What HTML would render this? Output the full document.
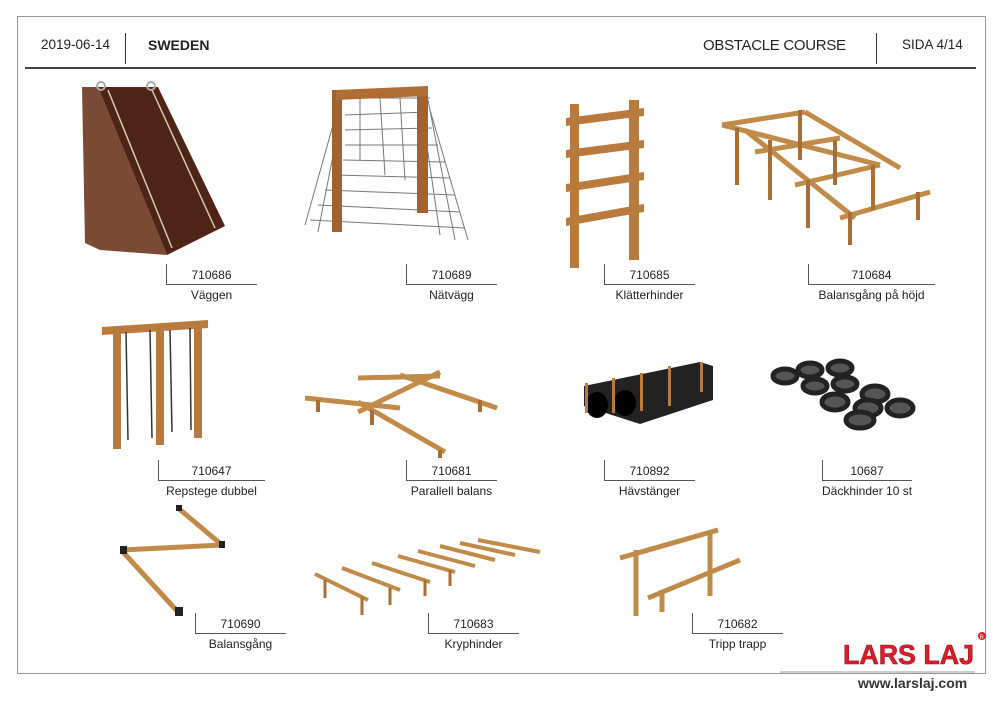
<!DOCTYPE html>
<html><head><meta charset="utf-8"><style>
body{margin:0;background:#fff;width:1000px;height:707px;position:relative;overflow:hidden;font-family:"Liberation Sans",sans-serif;}
.t{position:absolute;font-size:12px;color:#222;white-space:nowrap;}
.v{position:absolute;width:1px;background:#555;}
.h{position:absolute;height:1px;background:#555;}
</style></head><body>
<div style="position:absolute;left:17px;top:16px;width:967px;height:656px;border:1px solid #999;"></div>
<div class="h" style="left:25px;top:67px;width:951px;height:1.5px;background:#444"></div>
<div class="v" style="left:125px;top:33px;height:31px;background:#333"></div>
<div class="v" style="left:876px;top:33px;height:31px;background:#333"></div>
<div class="t" style="left:41px;top:37px;font-size:13.5px;">2019-06-14</div>
<div class="t" style="left:148px;top:37px;font-size:14px;font-weight:bold;">SWEDEN</div>
<div class="t" style="left:703px;top:37px;font-size:15px;letter-spacing:-0.3px;">OBSTACLE COURSE</div>
<div class="t" style="left:902px;top:37px;font-size:13.5px;">SIDA 4/14</div>

<svg width="1000" height="707" style="position:absolute;left:0;top:0">
<!-- wall -->
<polygon points="82,87 98,87 167,255 100,250 85,243" fill="#7a4a35"/>
<polygon points="98,87 158,87 225,226 167,255" fill="#4e2416"/>
<line x1="108" y1="90" x2="172" y2="248" stroke="#d9c9b0" stroke-width="1.5"/>
<line x1="152" y1="90" x2="215" y2="228" stroke="#d9c9b0" stroke-width="1.5"/>
<circle cx="101" cy="86" r="4" fill="none" stroke="#aaa" stroke-width="2"/>
<circle cx="151" cy="86" r="4" fill="none" stroke="#aaa" stroke-width="2"/>
<!-- net -->
<g stroke="#777" stroke-width="1" fill="none">
<path d="M340,100 L305,225 M340,120 L318,232 M343,98 L430,98 M345,115 L428,112 M345,130 L432,128 M345,145 L438,145 M343,160 L445,162 M335,175 L450,178 M325,190 L455,195 M318,205 L460,212 M310,220 L465,228"/>
<path d="M360,98 L360,160 M380,98 L385,175 M400,98 L405,180 M420,98 L440,235 M430,110 L468,240 M428,100 L455,240"/>
</g>
<rect x="332" y="90" width="10" height="142" fill="#a0622e"/>
<rect x="417" y="88" width="11" height="125" fill="#a0622e"/>
<polygon points="336,90 428,86 428,96 336,100" fill="#b06d33"/>
<!-- ladder -->
<g fill="#b97a3e">
<rect x="570" y="104" width="9" height="164"/>
<rect x="629" y="100" width="10" height="160"/>
<polygon points="566,118 644,108 644,116 566,126"/>
<polygon points="566,150 644,140 644,148 566,158"/>
<polygon points="566,184 644,172 644,180 566,192"/>
<polygon points="566,218 644,204 644,212 566,226"/>
</g>
<!-- balance high -->
<g stroke="#c08a48" stroke-width="5">
<line x1="722" y1="125" x2="880" y2="165"/><line x1="722" y1="125" x2="805" y2="112"/>
<line x1="805" y1="112" x2="900" y2="168"/><line x1="755" y1="152" x2="840" y2="138"/>
<line x1="795" y1="185" x2="880" y2="165"/><line x1="840" y1="218" x2="930" y2="192"/>
<line x1="745" y1="130" x2="855" y2="218"/>
</g>
<g stroke="#a86e35" stroke-width="4">
<line x1="737" y1="128" x2="737" y2="185"/><line x1="770" y1="140" x2="770" y2="200"/><line x1="800" y1="110" x2="800" y2="160"/>
<line x1="835" y1="140" x2="835" y2="185"/><line x1="808" y1="180" x2="808" y2="228"/><line x1="850" y1="212" x2="850" y2="245"/>
<line x1="873" y1="165" x2="873" y2="210"/><line x1="918" y1="192" x2="918" y2="220"/>
</g>
<!-- repstege -->
<g fill="#b97a3e">
<rect x="113" y="327" width="8" height="122"/><rect x="156" y="325" width="8" height="120"/><rect x="194" y="323" width="8" height="115"/>
<polygon points="102,327 208,320 208,328 102,335"/>
</g>
<g stroke="#333" stroke-width="1.5">
<line x1="126" y1="332" x2="128" y2="440"/><line x1="150" y1="330" x2="152" y2="438"/>
<line x1="170" y1="330" x2="172" y2="432"/><line x1="190" y1="328" x2="191" y2="430"/>
</g>
<!-- parallel -->
<g stroke="#c08a48" stroke-width="5">
<line x1="305" y1="398" x2="400" y2="408"/><line x1="358" y1="378" x2="440" y2="376"/>
<line x1="358" y1="412" x2="440" y2="372"/><line x1="400" y1="375" x2="497" y2="408"/>
<line x1="358" y1="402" x2="445" y2="452"/>
</g>
<g stroke="#a86e35" stroke-width="4"><line x1="318" y1="400" x2="318" y2="412"/><line x1="372" y1="410" x2="372" y2="425"/><line x1="440" y1="450" x2="440" y2="458"/><line x1="480" y1="400" x2="480" y2="412"/></g>
<!-- tunnels -->
<polygon points="584,386 700,362 713,366 713,400 640,424 584,406" fill="#222"/>
<ellipse cx="597" cy="405" rx="11" ry="13" fill="#000"/><ellipse cx="625" cy="403" rx="11" ry="13" fill="#000"/>
<g fill="#b97a3e"><rect x="585" y="383" width="3" height="30"/><rect x="612" y="378" width="3" height="35"/><rect x="640" y="373" width="3" height="38"/><rect x="668" y="366" width="3" height="40"/><rect x="700" y="362" width="3" height="30"/></g>
<!-- tires -->
<g fill="#555" stroke="#222" stroke-width="5">
<ellipse cx="810" cy="370" rx="12" ry="7"/><ellipse cx="840" cy="368" rx="12" ry="7"/><ellipse cx="785" cy="376" rx="12" ry="7"/>
<ellipse cx="815" cy="386" rx="12" ry="7"/><ellipse cx="845" cy="384" rx="12" ry="7"/><ellipse cx="875" cy="394" rx="13" ry="8"/>
<ellipse cx="835" cy="402" rx="13" ry="8"/><ellipse cx="868" cy="408" rx="13" ry="8"/><ellipse cx="900" cy="408" rx="13" ry="8"/>
<ellipse cx="860" cy="420" rx="14" ry="8"/>
</g>
<!-- balansgång -->
<g stroke="#c08a48" stroke-width="5">
<line x1="123" y1="550" x2="222" y2="545"/><line x1="178" y1="508" x2="222" y2="545"/><line x1="123" y1="552" x2="178" y2="612"/>
</g>
<g fill="#222"><rect x="120" y="546" width="7" height="8"/><rect x="175" y="607" width="8" height="9"/><rect x="176" y="505" width="6" height="6"/><rect x="219" y="541" width="6" height="7"/></g>
<!-- kryphinder -->
<g stroke="#c08a48" stroke-width="4">
<line x1="315" y1="574" x2="368" y2="600"/><line x1="342" y1="568" x2="400" y2="590"/><line x1="372" y1="563" x2="430" y2="582"/>
<line x1="398" y1="556" x2="455" y2="572"/><line x1="418" y1="551" x2="475" y2="566"/><line x1="440" y1="546" x2="495" y2="560"/>
<line x1="460" y1="543" x2="515" y2="555"/><line x1="478" y1="540" x2="540" y2="552"/>
</g>
<g stroke="#a86e35" stroke-width="3"><line x1="325" y1="580" x2="325" y2="598"/><line x1="362" y1="597" x2="362" y2="615"/><line x1="390" y1="588" x2="390" y2="605"/><line x1="425" y1="580" x2="425" y2="596"/><line x1="450" y1="570" x2="450" y2="586"/></g>
<!-- tripp trapp -->
<g stroke="#c08a48" stroke-width="5">
<line x1="620" y1="558" x2="718" y2="530"/><line x1="648" y1="598" x2="740" y2="560"/>
<line x1="636" y1="550" x2="636" y2="616"/><line x1="710" y1="532" x2="710" y2="596"/><line x1="662" y1="590" x2="662" y2="612"/>
</g>
<!-- logo -->
<text x="843" y="664" font-family="Liberation Sans,sans-serif" font-weight="bold" font-size="28" fill="#d81e2a" stroke="#a0101a" stroke-width="0.6" textLength="131" lengthAdjust="spacingAndGlyphs">LARS LAJ</text>
<circle cx="982" cy="636" r="4" fill="#d81e2a"/><text x="979.5" y="639" font-size="6" fill="#fff" font-family="Liberation Sans">R</text>
<line x1="780" y1="672" x2="975" y2="672" stroke="#999"/>
</svg>
<div class="t" style="left:858px;top:675px;font-size:14px;font-weight:bold;color:#333">www.larslaj.com</div>

<!-- labels -->
<div class="v" style="left:166px;top:264px;height:21px"></div><div class="h" style="left:166px;top:284px;width:91px"></div>
<div class="t" style="left:166px;width:91px;text-align:center;top:268px">710686</div><div class="t" style="left:166px;width:91px;text-align:center;top:288px">Väggen</div>
<div class="v" style="left:406px;top:264px;height:21px"></div><div class="h" style="left:406px;top:284px;width:91px"></div>
<div class="t" style="left:406px;width:91px;text-align:center;top:268px">710689</div><div class="t" style="left:406px;width:91px;text-align:center;top:288px">Nätvägg</div>
<div class="v" style="left:604px;top:264px;height:21px"></div><div class="h" style="left:604px;top:284px;width:91px"></div>
<div class="t" style="left:604px;width:91px;text-align:center;top:268px">710685</div><div class="t" style="left:604px;width:91px;text-align:center;top:288px">Klätterhinder</div>
<div class="v" style="left:808px;top:264px;height:21px"></div><div class="h" style="left:808px;top:284px;width:127px"></div>
<div class="t" style="left:808px;width:127px;text-align:center;top:268px">710684</div><div class="t" style="left:808px;width:127px;text-align:center;top:288px">Balansgång på höjd</div>
<div class="v" style="left:158px;top:460px;height:21px"></div><div class="h" style="left:158px;top:480px;width:107px"></div>
<div class="t" style="left:158px;width:107px;text-align:center;top:464px">710647</div><div class="t" style="left:158px;width:107px;text-align:center;top:484px">Repstege dubbel</div>
<div class="v" style="left:406px;top:460px;height:21px"></div><div class="h" style="left:406px;top:480px;width:91px"></div>
<div class="t" style="left:406px;width:91px;text-align:center;top:464px">710681</div><div class="t" style="left:406px;width:91px;text-align:center;top:484px">Parallell balans</div>
<div class="v" style="left:604px;top:460px;height:21px"></div><div class="h" style="left:604px;top:480px;width:91px"></div>
<div class="t" style="left:604px;width:91px;text-align:center;top:464px">710892</div><div class="t" style="left:604px;width:91px;text-align:center;top:484px">Hävstänger</div>
<div class="v" style="left:822px;top:460px;height:21px"></div><div class="h" style="left:822px;top:480px;width:90px"></div>
<div class="t" style="left:822px;width:90px;text-align:center;top:464px">10687</div><div class="t" style="left:822px;width:90px;text-align:center;top:484px">Däckhinder 10 st</div>
<div class="v" style="left:195px;top:613px;height:21px"></div><div class="h" style="left:195px;top:633px;width:91px"></div>
<div class="t" style="left:195px;width:91px;text-align:center;top:617px">710690</div><div class="t" style="left:195px;width:91px;text-align:center;top:637px">Balansgång</div>
<div class="v" style="left:428px;top:613px;height:21px"></div><div class="h" style="left:428px;top:633px;width:91px"></div>
<div class="t" style="left:428px;width:91px;text-align:center;top:617px">710683</div><div class="t" style="left:428px;width:91px;text-align:center;top:637px">Kryphinder</div>
<div class="v" style="left:692px;top:613px;height:21px"></div><div class="h" style="left:692px;top:633px;width:91px"></div>
<div class="t" style="left:692px;width:91px;text-align:center;top:617px">710682</div><div class="t" style="left:692px;width:91px;text-align:center;top:637px">Tripp trapp</div>
</body></html>
